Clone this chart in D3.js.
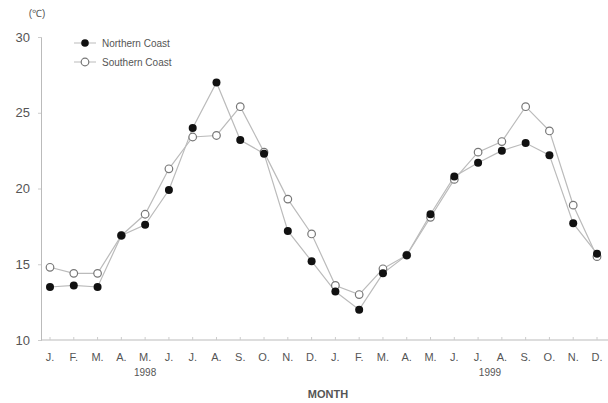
<!DOCTYPE html>
<html>
<head>
<meta charset="utf-8">
<script src="https://cdn.jsdelivr.net/npm/d3@7"></script>
<style>
  body { margin: 0; background: #fff; }
  text { font-family: "Liberation Sans", Arial, sans-serif; fill: #555; }
</style>
</head>
<body>
<div id="chart"></div>
<script>
// monthly data, Jan 1998 - Dec 1999
const months = ["J.", "F.", "M.", "A.", "M.", "J.", "J.", "A.", "S.", "O.", "N.", "D.",
                "J.", "F.", "M.", "A.", "M.", "J.", "J.", "A.", "S.", "O.", "N.", "D."];
const northern = [13.5, 13.6, 13.5, 16.9, 17.6, 19.9, 24.0, 27.0, 23.2, 22.3, 17.2, 15.2,
                  13.2, 12.0, 14.4, 15.6, 18.3, 20.8, 21.7, 22.5, 23.0, 22.2, 17.7, 15.7];
const southern = [14.8, 14.4, 14.4, 16.9, 18.3, 21.3, 23.4, 23.5, 25.4, 22.4, 19.3, 17.0,
                  13.6, 13.0, 14.7, 15.6, 18.1, 20.6, 22.4, 23.1, 25.4, 23.8, 18.9, 15.5];
const yTicks = [10, 15, 20, 25, 30];
const years = [{label: "1998", at: 4}, {label: "1999", at: 18.5}];

const width = 608, height = 403;

const svg = d3.select("#chart")
  .append("svg")
    .attr("width", width)
    .attr("height", height);

const x = d3.scaleLinear()
  .domain([0, months.length - 1])
  .range([50, 597]);

const y = d3.scaleLinear()
  .domain([10, 30])
  .range([340, 37]);

// y axis
const yAxis = svg.append("g")
  .attr("transform", "translate(41,0)")
  .call(d3.axisLeft(y).tickValues(yTicks).tickSize(3).tickPadding(8));
yAxis.select(".domain").attr("stroke", "#bbb");
yAxis.selectAll(".tick line").attr("stroke", "#ccc");
yAxis.selectAll("text").attr("font-size", "13px").attr("fill", "#555");

svg.append("text")
  .attr("x", 37)
  .attr("y", 17)
  .attr("text-anchor", "middle")
  .attr("font-size", "10px")
  .text("(℃)");

// x axis
svg.append("line")
  .attr("x1", 41).attr("x2", width)
  .attr("y1", y(10)).attr("y2", y(10))
  .attr("stroke", "#bbb");

svg.append("g")
  .selectAll("text")
  .data(months)
  .join("text")
    .attr("x", (d, i) => x(i))
    .attr("y", 361)
    .attr("text-anchor", "middle")
    .attr("font-size", "11px")
    .text(d => d);

svg.append("g")
  .selectAll("line")
  .data(months)
  .join("line")
    .attr("x1", (d, i) => x(i)).attr("x2", (d, i) => x(i))
    .attr("y1", y(10)).attr("y2", y(10) - 3)
    .attr("stroke", "#ccc");

svg.append("g")
  .selectAll("text")
  .data(years)
  .join("text")
    .attr("x", d => x(d.at))
    .attr("y", 376)
    .attr("text-anchor", "middle")
    .attr("font-size", "10px")
    .text(d => d.label);

svg.append("text")
  .attr("x", 328)
  .attr("y", 398)
  .attr("text-anchor", "middle")
  .attr("font-size", "11px")
  .attr("font-weight", "bold")
  .attr("fill", "#444")
  .text("MONTH");

// lines
const line = d3.line()
  .x((d, i) => x(i))
  .y(d => y(d));

svg.append("path")
  .datum(southern)
  .attr("fill", "none")
  .attr("stroke", "#bbb")
  .attr("stroke-width", 1.2)
  .attr("d", line);

svg.append("path")
  .datum(northern)
  .attr("fill", "none")
  .attr("stroke", "#bbb")
  .attr("stroke-width", 1.2)
  .attr("d", line);

// markers
svg.selectAll(".south")
  .data(southern)
  .join("circle")
    .attr("class", "south")
    .attr("cx", (d, i) => x(i))
    .attr("cy", d => y(d))
    .attr("r", 3.8)
    .attr("fill", "#fff")
    .attr("stroke", "#777")
    .attr("stroke-width", 1.2);

svg.selectAll(".north")
  .data(northern)
  .join("circle")
    .attr("class", "north")
    .attr("cx", (d, i) => x(i))
    .attr("cy", d => y(d))
    .attr("r", 4)
    .attr("fill", "#111");

// legend
const legend = svg.append("g");
const items = [
  {name: "Northern Coast", fill: "#111", stroke: "none", yy: 43},
  {name: "Southern Coast", fill: "#fff", stroke: "#777", yy: 62}
];
items.forEach(it => {
  legend.append("line")
    .attr("x1", 74).attr("x2", 96)
    .attr("y1", it.yy).attr("y2", it.yy)
    .attr("stroke", "#bbb");
  legend.append("circle")
    .attr("cx", 85).attr("cy", it.yy).attr("r", 3.8)
    .attr("fill", it.fill).attr("stroke", it.stroke).attr("stroke-width", 1.2);
  legend.append("text")
    .attr("x", 102).attr("y", it.yy + 4)
    .attr("font-size", "10px")
    .text(it.name);
});
</script>
</body>
</html>
